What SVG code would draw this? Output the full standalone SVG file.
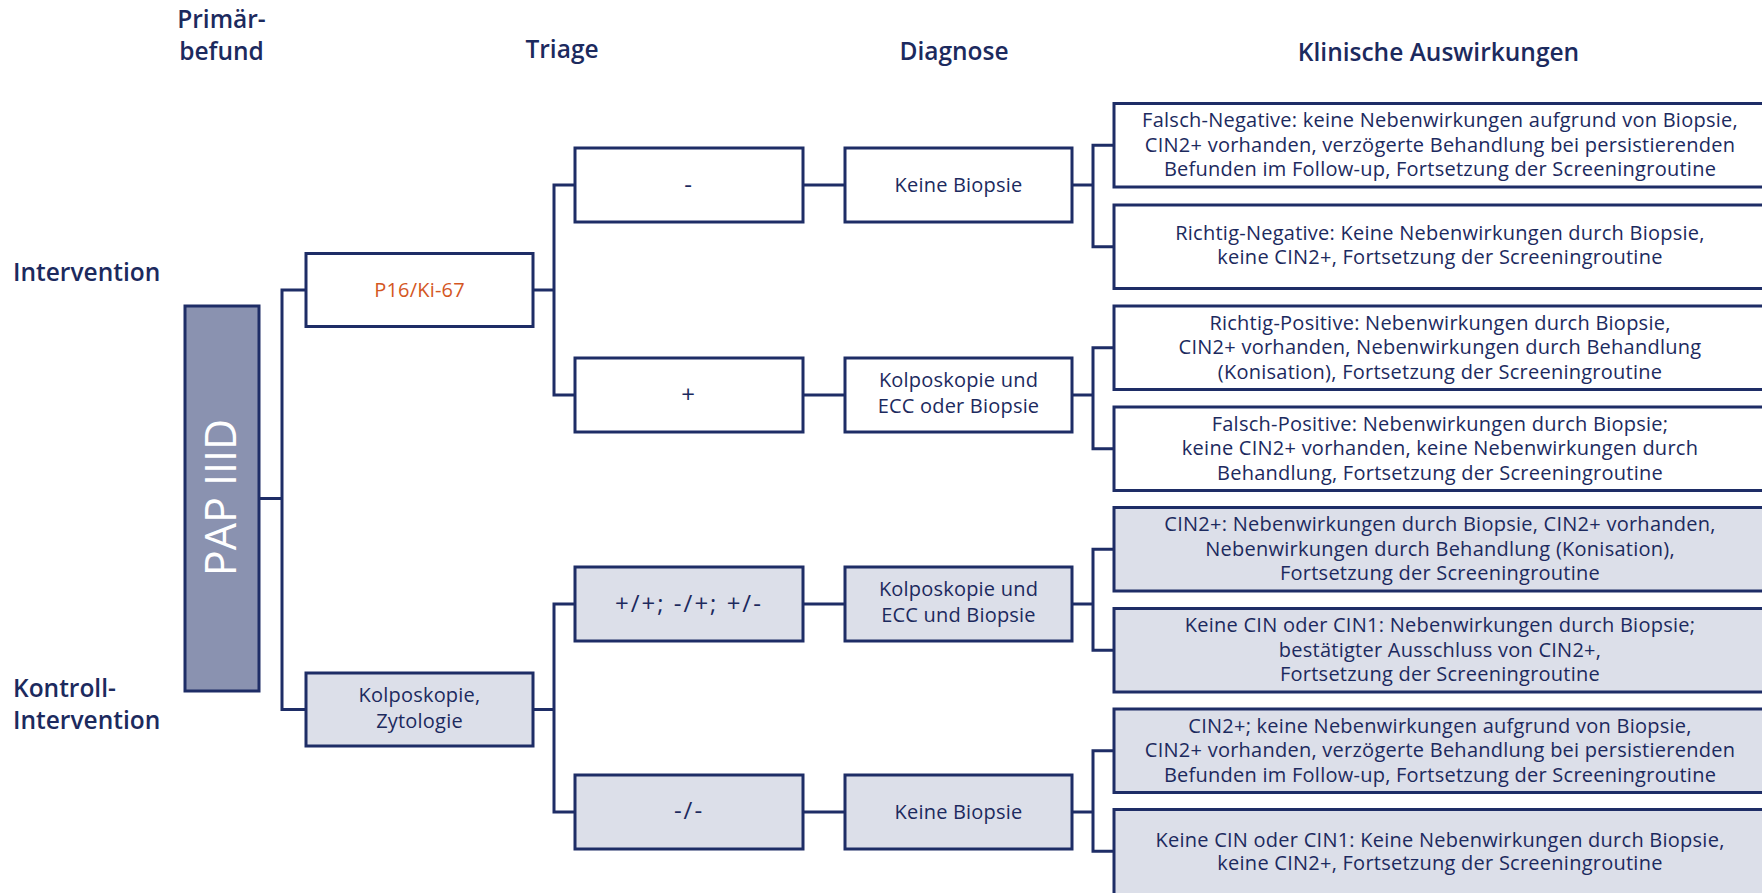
<svg xmlns="http://www.w3.org/2000/svg" width="1762" height="893" viewBox="0 0 1762 893">
<defs>
<style>
.bg{fill:#ffffff}
.box{fill:#ffffff;stroke:#1e2d66;stroke-width:3}
.boxg{fill:#dcdfe9;stroke:#1e2d66;stroke-width:3}
.pap{fill:#8a92b0;stroke:#1e2d66;stroke-width:3}
.conn{fill:none;stroke:#1e2d66;stroke-width:3;stroke-linejoin:miter}
.hd{font-family:"Open Sans","Noto Sans","Liberation Sans",sans-serif;font-weight:600;font-size:24.5px;fill:#1c2a5e}
.t{font-family:"Open Sans","Noto Sans","Liberation Sans",sans-serif;font-size:20px;letter-spacing:0.2px;fill:#1c2a5e;text-anchor:middle}
.s{font-size:24px;letter-spacing:2px}
.o{font-family:"Open Sans","Noto Sans","Liberation Sans",sans-serif;font-size:20px;letter-spacing:0.25px;fill:#1c2a5e;text-anchor:middle}
.or{fill:#d4571f}
.pt{font-family:"Open Sans","Noto Sans","Liberation Sans",sans-serif;font-weight:400;font-size:43px;fill:#ffffff;text-anchor:middle}
</style>
</defs>
<rect class="bg" x="0" y="0" width="1762" height="893"/>

<g id="headers">
<text class="hd" x="221.5" y="28" text-anchor="middle">Primär-</text>
<text class="hd" x="221.5" y="60" text-anchor="middle">befund</text>
<text class="hd" x="562" y="58" text-anchor="middle">Triage</text>
<text class="hd" x="954" y="60" text-anchor="middle">Diagnose</text>
<text class="hd" x="1438.5" y="61" text-anchor="middle">Klinische Auswirkungen</text>
<text class="hd" x="13" y="281">Intervention</text>
<text class="hd" x="13" y="697">Kontroll-</text>
<text class="hd" x="13" y="729">Intervention</text>
</g>

<g id="connectors">
<path class="conn" d="M259 498.5 H282"/>
<path class="conn" d="M306 290 H282 V709.5 H306"/>
<path class="conn" d="M533 290 H554"/>
<path class="conn" d="M575 185 H554 V395 H575"/>
<path class="conn" d="M533 709.5 H554"/>
<path class="conn" d="M575 604 H554 V812 H575"/>
<path class="conn" d="M803 185 H845"/>
<path class="conn" d="M803 395 H845"/>
<path class="conn" d="M803 604 H845"/>
<path class="conn" d="M803 812 H845"/>
<path class="conn" d="M1072 185 H1093"/>
<path class="conn" d="M1114 145.25 H1093 V246.75 H1114"/>
<path class="conn" d="M1072 395 H1093"/>
<path class="conn" d="M1114 347.75 H1093 V448.75 H1114"/>
<path class="conn" d="M1072 604 H1093"/>
<path class="conn" d="M1114 549.25 H1093 V650.25 H1114"/>
<path class="conn" d="M1072 812 H1093"/>
<path class="conn" d="M1114 750.75 H1093 V851.25 H1114"/>
</g>

<g id="pap">
<rect class="pap" x="185" y="306" width="74" height="385"/>
<text class="pt" transform="translate(236,497.5) rotate(-90)">PAP IIID</text>
</g>

<g id="p16">
<rect class="box" x="306" y="253.5" width="227" height="73"/>
<text class="t or" x="419.5" y="296.5">P16/Ki-67</text>
</g>
<g id="kolpo-zyto">
<rect class="boxg" x="306" y="673" width="227" height="73"/>
<text class="t" x="419.5" y="701.5">Kolposkopie,</text>
<text class="t" x="419.5" y="727.5">Zytologie</text>
</g>

<g id="triage-neg">
<rect class="box" x="575" y="148" width="228" height="74"/>
<text class="t s" x="689" y="192.5">-</text>
</g>
<g id="triage-pos">
<rect class="box" x="575" y="358" width="228" height="74"/>
<text class="t s" x="689" y="403">+</text>
</g>
<g id="triage-combo">
<rect class="boxg" x="575" y="567" width="228" height="74"/>
<text class="t s" x="689" y="612">+/+; -/+; +/-</text>
</g>
<g id="triage-negneg">
<rect class="boxg" x="575" y="775" width="228" height="74"/>
<text class="t s" x="689" y="819">-/-</text>
</g>

<g id="diag-1">
<rect class="box" x="845" y="148" width="227" height="74"/>
<text class="t" x="958.5" y="191.5">Keine Biopsie</text>
</g>
<g id="diag-2">
<rect class="box" x="845" y="358" width="227" height="74"/>
<text class="t" x="958.5" y="387">Kolposkopie und</text>
<text class="t" x="958.5" y="413">ECC oder Biopsie</text>
</g>
<g id="diag-3">
<rect class="boxg" x="845" y="567" width="227" height="74"/>
<text class="t" x="958.5" y="596">Kolposkopie und</text>
<text class="t" x="958.5" y="622">ECC und Biopsie</text>
</g>
<g id="diag-4">
<rect class="boxg" x="845" y="775" width="227" height="74"/>
<text class="t" x="958.5" y="818.5">Keine Biopsie</text>
</g>

<g id="out-1">
<rect class="box" x="1114" y="103.5" width="660" height="83.5"/>
<text class="o" x="1440" y="127">Falsch-Negative: keine Nebenwirkungen aufgrund von Biopsie,</text>
<text class="o" x="1440" y="151.5">CIN2+ vorhanden, verzögerte Behandlung bei persistierenden</text>
<text class="o" x="1440" y="176">Befunden im Follow-up, Fortsetzung der Screeningroutine</text>
</g>
<g id="out-2">
<rect class="box" x="1114" y="205" width="660" height="83.5"/>
<text class="o" x="1440" y="240">Richtig-Negative: Keine Nebenwirkungen durch Biopsie,</text>
<text class="o" x="1440" y="264">keine CIN2+, Fortsetzung der Screeningroutine</text>
</g>
<g id="out-3">
<rect class="box" x="1114" y="306" width="660" height="83.5"/>
<text class="o" x="1440" y="329.5">Richtig-Positive: Nebenwirkungen durch Biopsie,</text>
<text class="o" x="1440" y="354">CIN2+ vorhanden, Nebenwirkungen durch Behandlung</text>
<text class="o" x="1440" y="378.5">(Konisation), Fortsetzung der Screeningroutine</text>
</g>
<g id="out-4">
<rect class="box" x="1114" y="407" width="660" height="83.5"/>
<text class="o" x="1440" y="430.5">Falsch-Positive: Nebenwirkungen durch Biopsie;</text>
<text class="o" x="1440" y="455">keine CIN2+ vorhanden, keine Nebenwirkungen durch</text>
<text class="o" x="1440" y="479.5">Behandlung, Fortsetzung der Screeningroutine</text>
</g>
<g id="out-5">
<rect class="boxg" x="1114" y="507.5" width="660" height="83.5"/>
<text class="o" x="1440" y="531">CIN2+: Nebenwirkungen durch Biopsie, CIN2+ vorhanden,</text>
<text class="o" x="1440" y="555.5">Nebenwirkungen durch Behandlung (Konisation),</text>
<text class="o" x="1440" y="580">Fortsetzung der Screeningroutine</text>
</g>
<g id="out-6">
<rect class="boxg" x="1114" y="608.5" width="660" height="83.5"/>
<text class="o" x="1440" y="632">Keine CIN oder CIN1: Nebenwirkungen durch Biopsie;</text>
<text class="o" x="1440" y="656.5">bestätigter Ausschluss von CIN2+,</text>
<text class="o" x="1440" y="681">Fortsetzung der Screeningroutine</text>
</g>
<g id="out-7">
<rect class="boxg" x="1114" y="709" width="660" height="83.5"/>
<text class="o" x="1440" y="732.5">CIN2+; keine Nebenwirkungen aufgrund von Biopsie,</text>
<text class="o" x="1440" y="757">CIN2+ vorhanden, verzögerte Behandlung bei persistierenden</text>
<text class="o" x="1440" y="781.5">Befunden im Follow-up, Fortsetzung der Screeningroutine</text>
</g>
<g id="out-8">
<rect class="boxg" x="1114" y="809.5" width="660" height="85"/>
<text class="o" x="1440" y="846.5">Keine CIN oder CIN1: Keine Nebenwirkungen durch Biopsie,</text>
<text class="o" x="1440" y="870">keine CIN2+, Fortsetzung der Screeningroutine</text>
</g>
</svg>
